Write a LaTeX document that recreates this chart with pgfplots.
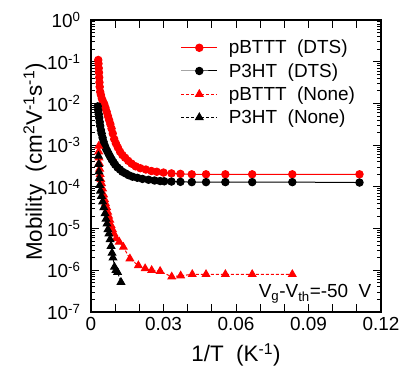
\documentclass[border=0pt]{standalone}
\usepackage{pgfplots}
\pgfplotsset{compat=1.18}
\usepackage{fontspec}
\setmainfont{Liberation Sans}
\newcommand\tickfont{\fontsize{19}{22}\selectfont}
\newcommand\labfont{\fontsize{22.5}{26}\selectfont}
\newcommand\legfont{\fontsize{19}{22}\selectfont}
\begin{document}
\begin{tikzpicture}
\path[use as bounding box] (-91bp,-55bp) rectangle (312bp,312bp);
\begin{axis}[
  scale only axis, width=290bp, height=292bp,
  at={(0,0)}, anchor=south west,
  xmin=0, xmax=0.12, ymode=log, ymin=1e-7, ymax=1,
  axis line style={line width=1.4bp},
  tick align=inside, tick pos=both,
  major tick length=8bp, minor tick length=4bp,
  every tick/.style={black, line width=0.9bp},
  scaled x ticks=false,
  xtick={0,0.01,0.02,0.03,0.04,0.05,0.06,0.07,0.08,0.09,0.1,0.11,0.12},
  xticklabels={0,,,0.03,,,0.06,,,0.09,,,0.12},
  ytick={1e-7,1e-6,1e-5,1e-4,1e-3,1e-2,1e-1,1},
  yticklabels={10\textsuperscript{-7},10\textsuperscript{-6},10\textsuperscript{-5},10\textsuperscript{-4},10\textsuperscript{-3},10\textsuperscript{-2},10\textsuperscript{-1},10\textsuperscript{0}},
  minor ytick={2e-7,3e-7,4e-7,5e-7,6e-7,7e-7,8e-7,9e-7,
    2e-6,3e-6,4e-6,5e-6,6e-6,7e-6,8e-6,9e-6,
    2e-5,3e-5,4e-5,5e-5,6e-5,7e-5,8e-5,9e-5,
    2e-4,3e-4,4e-4,5e-4,6e-4,7e-4,8e-4,9e-4,
    2e-3,3e-3,4e-3,5e-3,6e-3,7e-3,8e-3,9e-3,
    2e-2,3e-2,4e-2,5e-2,6e-2,7e-2,8e-2,9e-2,
    2e-1,3e-1,4e-1,5e-1,6e-1,7e-1,8e-1,9e-1},
  tick label style={font=\tickfont},
  xticklabel style={yshift=-2bp},
  yticklabel style={xshift=-7bp},
  xlabel={1/T\ \ (K\textsuperscript{-1})},
  ylabel={Mobility\ \ (cm\textsuperscript{2}V\textsuperscript{-1}s\textsuperscript{-1})},
  every axis x label/.style={at={(axis description cs:0.5,-0.171)}, anchor=base, font=\labfont},
  every axis y label/.style={at={(axis description cs:-0.169,0.514)}, anchor=base, rotate=90, font=\labfont},
  legend style={draw=none, fill=none, font=\legfont,
    at={(axis description cs:0.309,0.935)}, anchor=north west,
    inner sep=0pt, row sep=6bp, column sep=10bp, nodes={inner sep=1bp}},
  legend cell align=left,
  legend image code/.code={
    \draw[mark repeat=2,mark phase=2,#1] plot coordinates {(0bp,0bp) (18bp,0bp) (36bp,0bp)};
  },
]
\addplot[red, line width=1bp, mark=*, mark size=3.7bp] coordinates {
(0.0030,0.11) (0.0031,0.09) (0.0032,0.07) (0.0033,0.055) (0.0034,0.042)
(0.0035,0.032) (0.0036,0.025) (0.0038,0.019) (0.0041,0.016) (0.0045,0.013)
(0.0050,0.011) (0.0055,0.0095) (0.0060,0.0078) (0.0065,0.0063) (0.0070,0.0050)
(0.0075,0.0040) (0.0080,0.0032) (0.0085,0.0025) (0.0090,0.0019) (0.0096,0.0014)
(0.0103,0.0011) (0.0111,0.00088) (0.0120,0.00070) (0.0130,0.00058) (0.0141,0.00050)
(0.0154,0.00042) (0.0168,0.00036) (0.0185,0.00031) (0.0204,0.00028) (0.0227,0.00026)
(0.0250,0.00024) (0.0272,0.00023) (0.0300,0.00022) (0.0333,0.00021) (0.0370,0.000205)
(0.0417,0.0002) (0.0476,0.0002) (0.0556,0.0002) (0.0667,0.0002) (0.0833,0.0002) (0.1111,0.0002)
};
\addlegendentry{pBTTT\ \ (DTS)}
\addplot[black, line width=1bp, mark=*, mark size=3.7bp] coordinates {
(0.0028,0.0085) (0.0030,0.0068) (0.0032,0.0055) (0.0034,0.0045) (0.0036,0.0036)
(0.0038,0.0029) (0.0041,0.0023) (0.0044,0.0019) (0.0048,0.0015) (0.0052,0.0012)
(0.0057,0.00098) (0.0062,0.00082) (0.0067,0.00072) (0.0073,0.00062) (0.0079,0.00053)
(0.0086,0.00045) (0.0093,0.00039) (0.0100,0.00034) (0.0110,0.00029) (0.0120,0.00026)
(0.0130,0.00023) (0.0143,0.00021) (0.0156,0.00019) (0.0172,0.000175) (0.0192,0.000165)
(0.0213,0.000155) (0.0238,0.000148) (0.0263,0.000142) (0.0286,0.000138) (0.0303,0.000136)
(0.0333,0.000134) (0.0370,0.000132) (0.0417,0.00013) (0.0476,0.00013) (0.0556,0.00013)
(0.0667,0.00013) (0.0833,0.00013) (0.1111,0.000127)
};
\addlegendentry{P3HT\ \ (DTS)}
\addplot[red, line width=1bp, dash pattern=on 3bp off 2bp, mark=triangle*, mark size=4.3bp, mark options={solid}] coordinates {
(0.0032,0.00095) (0.0032,0.0007) (0.0033,0.0005) (0.0034,0.00037) (0.0036,0.00027)
(0.0038,0.0002) (0.0041,0.00015) (0.0044,0.00012) (0.0048,9e-5) (0.0052,6.5e-5)
(0.0056,5e-5) (0.0060,4e-5) (0.0065,3.2e-5) (0.0069,2.5e-5) (0.0073,2.0e-5)
(0.0078,1.6e-5) (0.0083,1.2e-5) (0.0089,9.5e-6) (0.0095,7.5e-6) (0.0104,5.8e-6)
(0.0117,4.8e-6) (0.0134,3.6e-6) (0.0161,1.9e-6) (0.0196,1.3e-6) (0.0224,1.1e-6)
(0.0251,1.0e-6) (0.0286,9.5e-7) (0.0334,7e-7) (0.0371,7.4e-7) (0.0419,8e-7)
(0.0476,8e-7) (0.0556,8e-7) (0.0667,8e-7) (0.0833,8e-7)
};
\addlegendentry{pBTTT\ \ (None)}
\addplot[black, line width=1bp, dash pattern=on 3bp off 2bp, mark=triangle*, mark size=4.3bp, mark options={solid}] coordinates {
(0.0031,5.5e-4) (0.0032,3.5e-4) (0.0033,2.3e-4) (0.0034,1.6e-4) (0.0036,1.1e-4)
(0.0039,8e-5) (0.0043,6e-5) (0.0048,4.4e-5) (0.0053,3.2e-5) (0.0058,2.3e-5)
(0.0062,1.7e-5) (0.0066,1.3e-5) (0.0070,9.5e-6) (0.0074,7.5e-6) (0.0079,5.5e-6)
(0.0083,3.8e-6) (0.0087,2.6e-6) (0.0091,2.0e-6) (0.0097,1.2e-6) (0.0103,1.0e-6)
(0.0110,9e-7) (0.0124,5.2e-7)
};
\addlegendentry{P3HT\ \ (None)}
\node[anchor=base east, font=\fontsize{19}{22}\selectfont] at (rel axis cs:0.979,0.048) {V\textsubscript{g}-V\textsubscript{th}=-50\ \ V};
\end{axis}
\end{tikzpicture}
\end{document}
